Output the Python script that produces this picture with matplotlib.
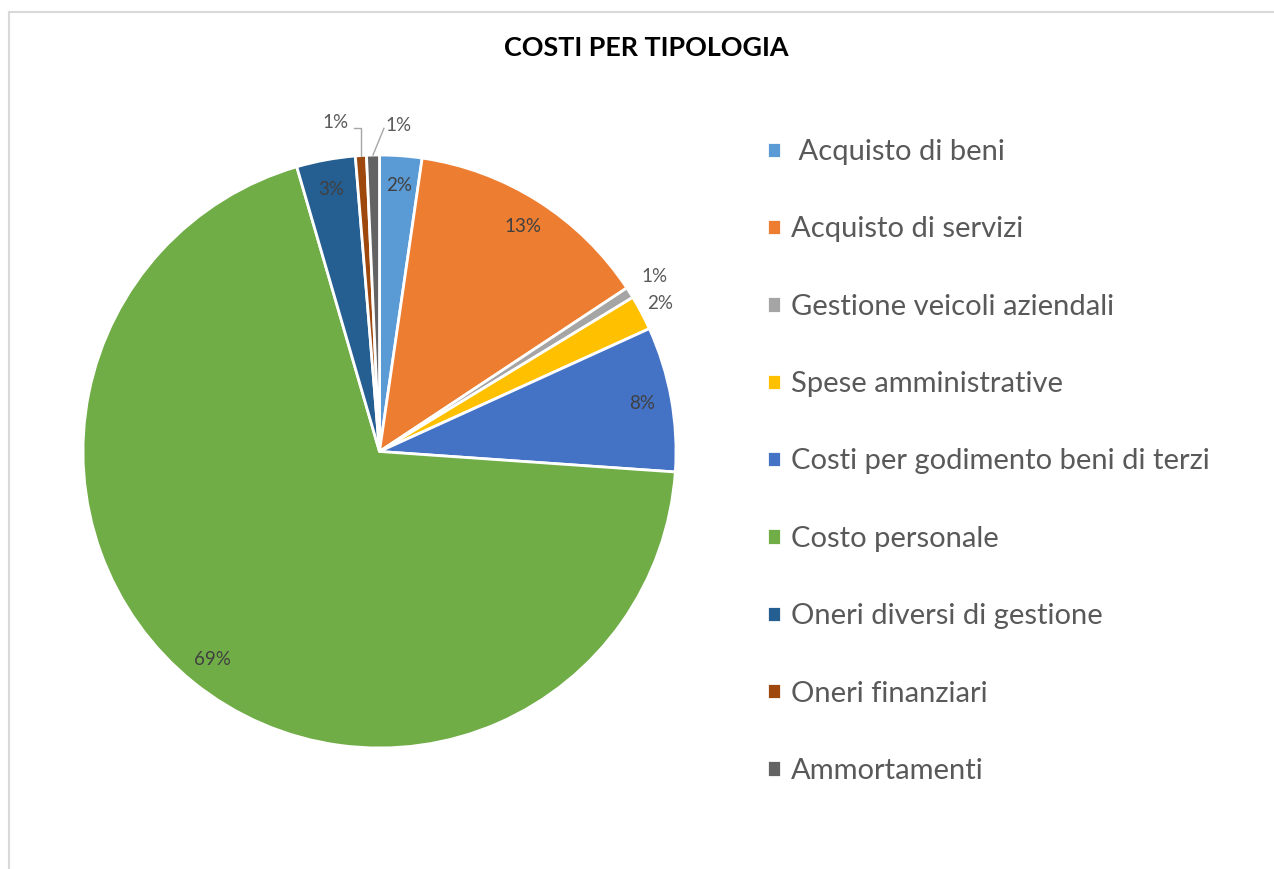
import numpy as np
import matplotlib
matplotlib.use('Agg')
from matplotlib import pyplot as plt
from matplotlib.lines import Line2D

plt.rcParams['font.family'] = ['Lato', 'DejaVu Sans']

categorie = [' Acquisto di beni', 'Acquisto di servizi', 'Gestione veicoli aziendali',
             'Spese amministrative', 'Costi per godimento beni di terzi', 'Costo personale',
             'Oneri diversi di gestione', 'Oneri finanziari', 'Ammortamenti']
valori = [2.3, 13.4, 0.6, 1.9, 7.9, 69.4, 3.2, 0.6, 0.7]
colori = ['#5B9BD5', '#ED7D31', '#A5A5A5', '#FFC000', '#4472C4', '#70AD47',
          '#255E91', '#9E480E', '#636363']
titolo = 'COSTI PER TIPOLOGIA'

# etichette fuori dalla torta (indice: distanza dal centro)
fuori = {2: 1.1, 3: 1.07}
con_linea = [7, 8]

W, H = 1274, 869
fig = plt.figure(figsize=(W / 100, H / 100), dpi=100)

cx, cy, r = 379.5, 451.5, 296.5
ax = fig.add_axes([(cx - r) / W, (H - cy - r) / H, 2 * r / W, 2 * r / H])
ax.set_aspect('equal')
ax.axis('off')

wedges, texts, autotexts = ax.pie(valori, colors=colori, startangle=90, counterclock=False,
                                  autopct='%.0f%%', pctdistance=0.9, radius=1, center=(0, 0),
                                  wedgeprops=dict(edgecolor='white', linewidth=2),
                                  textprops=dict(color='#404040', fontsize=13.5))
ax.set_xlim(-1, 1)
ax.set_ylim(-1, 1)

for i, t in enumerate(autotexts):
    w = wedges[i]
    mid = np.deg2rad((w.theta1 + w.theta2) / 2)
    if i in fuori:
        d = fuori[i]
        t.set_position((d * np.cos(mid), d * np.sin(mid)))
        t.set_color('#595959')
    elif i in con_linea:
        t.set_visible(False)

# etichette con linea guida in alto
pos_lbl = {7: (-0.15, 1.11), 8: (0.065, 1.10)}
for i in con_linea:
    w = wedges[i]
    mid = np.deg2rad((w.theta1 + w.theta2) / 2)
    ex, ey = np.cos(mid), np.sin(mid)
    lx, ly = pos_lbl[i]
    ax.text(lx, ly, '%.0f%%' % valori[i], ha='center', va='center', fontsize=13.5,
            color='#595959', clip_on=False)
    if i == 7:
        ax.plot([lx + 0.065, ex, ex], [ly - 0.02, ly - 0.02, ey], color='#a6a6a6', lw=1,
                clip_on=False)
    else:
        ax.plot([lx - 0.05, ex], [ly - 0.01, ey], color='#a6a6a6', lw=1, clip_on=False)

fig.text(646 / W, 1 - 48.5 / H, titolo, ha='center', va='center', fontsize=19.4,
         fontweight='bold', color='black')

fig.legend(wedges, categorie, loc='center left', bbox_to_anchor=(767 / W, 1 - 461.5 / H),
           frameon=False, fontsize=21, labelspacing=1.76, handlelength=0.48,
           handleheight=0.48, handletextpad=0.34, borderpad=0, borderaxespad=0,
           labelcolor='#595959')

# bordo dell'area grafico
fig.add_artist(Line2D([9 / W, 9 / W], [0, 1 - 12 / H], color='#d9d9d9', lw=1.5))
fig.add_artist(Line2D([9 / W, 1], [1 - 12 / H, 1 - 12 / H], color='#d9d9d9', lw=1.5))

plt.savefig('out.png', dpi=100)
